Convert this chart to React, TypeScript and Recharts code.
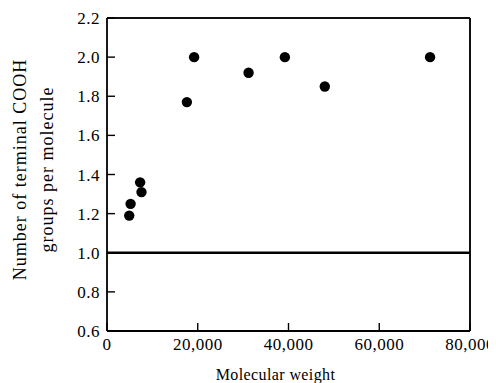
import { ScatterChart, Scatter, XAxis, YAxis, ReferenceLine } from "recharts";

const molWeight = [4900, 5200, 7300, 7600, 17600, 19200, 31200, 39200, 48000, 71200];
const coohGroups = [1.19, 1.25, 1.36, 1.31, 1.77, 2.0, 1.92, 2.0, 1.85, 2.0];
const xTicks = [0, 20000, 40000, 60000, 80000];
const yTicks = [0.6, 0.8, 1.0, 1.2, 1.4, 1.6, 1.8, 2.0, 2.2];

const points = molWeight.map((m, i) => ({ x: m, y: coohGroups[i] }));

const font = "'Liberation Serif', 'Times New Roman', serif";
const tickStyle = { fontSize: 17, fontFamily: font, fill: "#000", letterSpacing: 0.5 };

const YTitle = ({ viewBox }: any) => {
    const cy = viewBox.y + viewBox.height / 2 - 5;
    return (
        <g fontSize={18} fontFamily={font} fill="#000" textAnchor="middle" letterSpacing={1}>
            <text x={12} y={cy} dominantBaseline="central" transform={`rotate(-90, 12, ${cy})`}>
                Number of terminal COOH
            </text>
            <text x={39} y={cy} dominantBaseline="central" transform={`rotate(-90, 39, ${cy})`}>
                groups per molecule
            </text>
        </g>
    );
};

const XTitle = ({ viewBox }: any) => (
    <text x={viewBox.x + viewBox.width / 2 - 13} y={viewBox.y + viewBox.height - 3} textAnchor="middle" fontSize={16} fontFamily={font} letterSpacing={0.4} fill="#000">
        Molecular weight
    </text>
);

export default function App() {
    return (
        <ScatterChart width={488} height={375} margin={{ top: 10, right: 26, left: 0, bottom: 0 }}>
            <XAxis
                type="number"
                dataKey="x"
                domain={[0, 80000]}
                ticks={xTicks}
                tick={tickStyle}
                tickFormatter={(v: number) => v.toLocaleString("en-US")}
                tickLine={{ stroke: "#000", strokeWidth: 1.4 }}
                tickSize={-8}
                tickMargin={15}
                height={52}
                axisLine={{ stroke: "#000", strokeWidth: 1.8 }}
                label={<XTitle />}
            />
            <YAxis
                type="number"
                dataKey="y"
                domain={[0.6, 2.2]}
                ticks={yTicks}
                tick={tickStyle}
                tickFormatter={(v: number) => v.toFixed(1)}
                tickLine={{ stroke: "#000", strokeWidth: 1.4 }}
                tickSize={-8}
                tickMargin={15}
                width={99}
                axisLine={{ stroke: "#000", strokeWidth: 1.8 }}
                label={<YTitle />}
            />
            {/* top and right sides of the box */}
            <ReferenceLine y={2.2} stroke="#111" strokeWidth={2.2} />
            <ReferenceLine x={80000} stroke="#111" strokeWidth={2} />
            <ReferenceLine y={1} stroke="#000" strokeWidth={2.5} />
            <Scatter data={points} fill="#000" shape={(p: any) => <circle cx={p.cx} cy={p.cy} r={5.2} fill="#000" />} isAnimationActive={false} />
        </ScatterChart>
    );
}
